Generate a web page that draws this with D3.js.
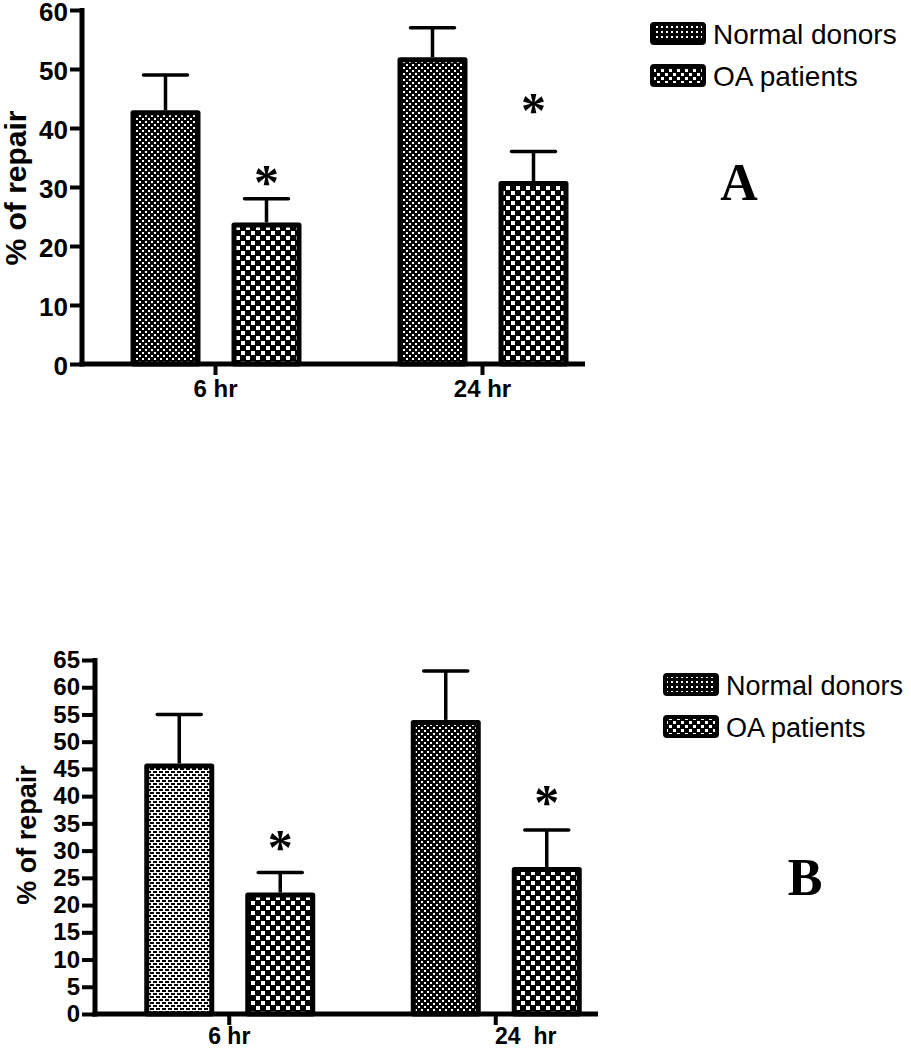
<!DOCTYPE html>
<html><head><meta charset="utf-8">
<script src="https://cdn.jsdelivr.net/npm/d3@7"></script>
<style>body{margin:0;background:#fff}svg{display:block}</style>
</head><body>
<svg id="c" width="911" height="1050"></svg>
<script>
const categories = ["6 hr", "24 hr"];
const categoriesB = ["6 hr", "24  hr"];
const series = ["Normal donors", "OA patients"];
const valuesA_normal = [43, 52];
const errA_normal = [6, 5];
const valuesA_oa = [24, 31];
const errA_oa = [4, 5];
const valuesB_normal = [46, 54];
const errB_normal = [9, 9];
const valuesB_oa = [22.3, 27];
const errB_oa = [3.7, 6.8];
const ticksA = [0, 10, 20, 30, 40, 50, 60];
const ticksB = [0, 5, 10, 15, 20, 25, 30, 35, 40, 45, 50, 55, 60, 65];

const svg = d3.select("#c");
const defs = svg.append("defs");

const pDot = defs.append("pattern").attr("id","dots").attr("patternUnits","userSpaceOnUse").attr("width",6).attr("height",6);
pDot.append("rect").attr("width",6).attr("height",6).attr("fill","#000");
pDot.append("rect").attr("x",1).attr("y",1).attr("width",2).attr("height",2).attr("fill","#fff");
pDot.append("rect").attr("x",4).attr("y",4).attr("width",2).attr("height",2).attr("fill","#fff");
const pChk = defs.append("pattern").attr("id","chk").attr("patternUnits","userSpaceOnUse").attr("width",10).attr("height",10);
pChk.append("rect").attr("width",10).attr("height",10).attr("fill","#000");
pChk.append("rect").attr("x",1).attr("y",1).attr("width",4).attr("height",4).attr("fill","#fff");
pChk.append("rect").attr("x",6).attr("y",6).attr("width",4).attr("height",4).attr("fill","#fff");
const pBrk = defs.append("pattern").attr("id","brick").attr("patternUnits","userSpaceOnUse").attr("width",6).attr("height",6);
pBrk.append("rect").attr("width",6).attr("height",6).attr("fill","#fff");
pBrk.append("rect").attr("x",0).attr("y",0).attr("width",4).attr("height",2).attr("fill","#000");
pBrk.append("rect").attr("x",3).attr("y",3).attr("width",4).attr("height",2).attr("fill","#000");
pBrk.append("rect").attr("x",-3).attr("y",3).attr("width",4).attr("height",2).attr("fill","#000");
const lDot = defs.append("pattern").attr("id","ldots").attr("patternUnits","userSpaceOnUse").attr("width",5).attr("height",5);
lDot.append("rect").attr("width",5).attr("height",5).attr("fill","#000");
lDot.append("rect").attr("x",1).attr("y",1).attr("width",2).attr("height",2).attr("fill","#fff");
const lChk = defs.append("pattern").attr("id","lchk").attr("patternUnits","userSpaceOnUse").attr("width",8).attr("height",8);
lChk.append("rect").attr("width",8).attr("height",8).attr("fill","#000");
lChk.append("rect").attr("x",1).attr("y",1).attr("width",3).attr("height",3).attr("fill","#fff");
lChk.append("rect").attr("x",5).attr("y",5).attr("width",3).attr("height",3).attr("fill","#fff");

function panel(cfg){
  const g = svg.append("g");
  const y = d3.scaleLinear().domain(cfg.domain).range([cfg.y0, cfg.y1]);
  const x = d3.scaleBand().domain(cfg.cats).range(cfg.xr);
  const xs = d3.scaleBand().domain(series).range([-85, 86]).paddingInner(0.307);
  const sw = 5;
  const data = [];
  cfg.cats.forEach((c,i)=>{
    data.push({c, s:series[0], v:cfg.normal[i], e:cfg.errN[i], fill: cfg.fillN[i]});
    data.push({c, s:series[1], v:cfg.oa[i], e:cfg.errO[i], fill: "url(#chk)", star:true, gap:cfg.starGap[i]});
  });
  const cx = d => x(d.c) + x.bandwidth()/2 + xs(d.s) + xs.bandwidth()/2;
  g.selectAll(".eb").data(data).enter().append("line")
    .attr("x1",cx).attr("x2",cx).attr("y1",d=>y(d.v)).attr("y2",d=>y(d.v+d.e))
    .attr("stroke","#000").attr("stroke-width",3.5);
  g.selectAll(".cap").data(data).enter().append("line")
    .attr("x1",d=>cx(d)-22).attr("x2",d=>cx(d)+22).attr("y1",d=>y(d.v+d.e)).attr("y2",d=>y(d.v+d.e))
    .attr("stroke","#000").attr("stroke-width",3.5).attr("stroke-linecap","round");
  g.selectAll(".bar").data(data).enter().append("rect")
    .attr("x",d=>x(d.c)+x.bandwidth()/2+xs(d.s)+sw/2)
    .attr("width",xs.bandwidth()-sw)
    .attr("y",d=>y(d.v)+sw/2)
    .attr("height",d=>y(0)-y(d.v)-sw/2)
    .attr("fill",d=>d.fill).attr("stroke","#000").attr("stroke-width",sw).attr("stroke-linejoin","round");
  g.selectAll(".star").data(data.filter(d=>d.star)).enter().append("text")
    .attr("x",cx).attr("y",d=>y(d.v+d.e)-d.gap+24).attr("text-anchor","middle")
    .attr("font-family","Liberation Serif").attr("font-weight","bold").attr("font-size",50).text("*");
  const ya = g.append("g").attr("transform",`translate(${cfg.xaxis},0)`)
    .call(d3.axisLeft(y).tickValues(cfg.ticks).tickSize(cfg.tickLen).tickPadding(2).tickFormat(d3.format("d")));
  ya.select(".domain").remove();
  ya.selectAll(".tick line").attr("stroke","#000").attr("stroke-width",4);
  ya.selectAll(".tick text").attr("font-family","Liberation Sans").attr("font-weight","bold").attr("font-size",cfg.tickFont).attr("fill","#000").attr("dy",cfg.tickDy);
  g.append("line").attr("x1",cfg.xaxis).attr("x2",cfg.xaxis).attr("y1",y(cfg.domain[1])-2).attr("y2",y(0)+2.5)
    .attr("stroke","#000").attr("stroke-width",5);
  const xa = g.append("g").attr("transform",`translate(0,${y(0)})`)
    .call(d3.axisBottom(x).tickSize(11).tickPadding(cfg.xPad));
  xa.select(".domain").remove();
  xa.selectAll(".tick line").attr("stroke","#000").attr("stroke-width",4);
  xa.selectAll(".tick text").attr("font-family","Liberation Sans").attr("font-weight","bold").attr("font-size",cfg.xFont).attr("fill","#000").style("white-space","pre")
    .attr("dx",(d,i)=>cfg.xdx[i]);
  g.append("line").attr("x1",cfg.xaxis-2.5).attr("x2",cfg.xend).attr("y1",y(0)).attr("y2",y(0))
    .attr("stroke","#000").attr("stroke-width",5);
  g.append("text").attr("transform",`translate(${cfg.ylx},${cfg.yly}) rotate(-90)`)
    .attr("text-anchor","middle").attr("dominant-baseline","central")
    .attr("font-family","Liberation Sans").attr("font-weight","bold").attr("font-size",cfg.ylFont).text("% of repair");
  const lg = g.append("g");
  series.forEach((s,i)=>{
    lg.append("rect").attr("x",cfg.lx+2).attr("y",cfg.ly[i]+2).attr("width",52).attr("height",19)
      .attr("rx",2).attr("fill",i===0?"url(#ldots)":"url(#lchk)").attr("stroke","#000").attr("stroke-width",4);
    lg.append("text").attr("x",cfg.lx+63).attr("y",cfg.ly[i]+22).attr("font-family","Liberation Sans")
      .attr("font-size",cfg.legFont).text(s);
  });
  g.append("text").attr("x",cfg.letter[0]).attr("y",cfg.letter[1]).attr("text-anchor","middle")
    .attr("font-family","Liberation Serif").attr("font-weight","bold").attr("font-size",52).text(cfg.label);
}

panel({domain:[0,60], y0:364, y1:10, cats:categories, xr:[82,616], normal:valuesA_normal, errN:errA_normal,
  oa:valuesA_oa, errO:errA_oa, fillN:["url(#dots)","url(#dots)"], ticks:ticksA, tickLen:12, tickFont:26, tickDy:"0.4em",
  xaxis:82, xend:585, xPad:5, xFont:24, xdx:[0,0], ylx:15, yly:188, ylFont:30, lx:650, ly:[22,64], legFont:28, letter:[739,200], label:"A", starGap:[24,49]});
panel({domain:[0,65], y0:1014, y1:660, cats:categoriesB, xr:[96,629], normal:valuesB_normal, errN:errB_normal,
  oa:valuesB_oa, errO:errB_oa, fillN:["url(#brick)","url(#dots)"], ticks:ticksB, tickLen:13, tickFont:24, tickDy:"0.32em",
  xaxis:95, xend:598, xPad:3, xFont:23, xdx:[0,30], ylx:27, yly:835, ylFont:27, lx:663, ly:[673,715], legFont:27, letter:[805,895], label:"B", starGap:[32,35]});
</script>
</body></html>
